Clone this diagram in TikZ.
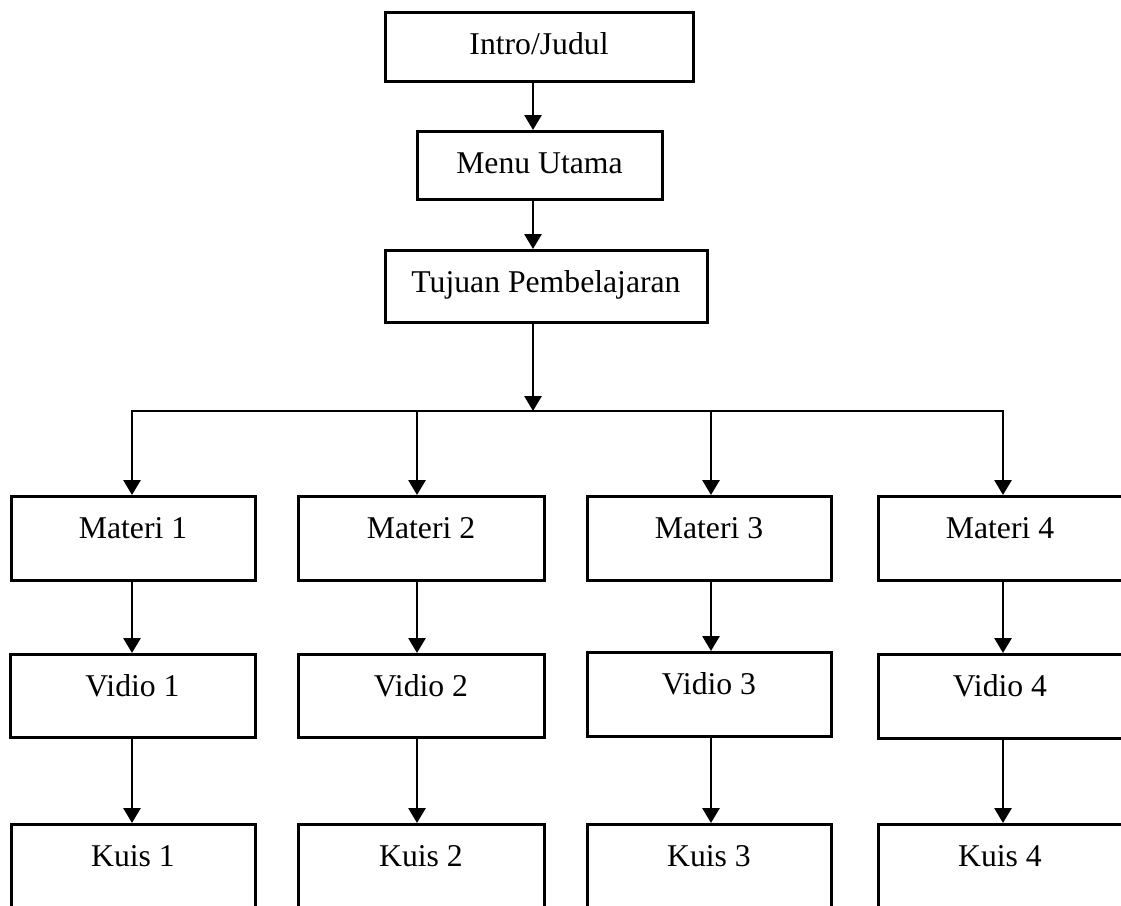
\documentclass[tikz,border=0pt]{standalone}
\usepackage{fontspec}
\setmainfont{Liberation Serif}
\usetikzlibrary{arrows.meta}
\begin{document}
\begin{tikzpicture}[x=1pt,y=-1pt,
  box/.style={draw, line width=3pt, inner xsep=0pt, inner ysep=0pt, text height=42pt, anchor=north, font=\fontsize{31.7pt}{38pt}\selectfont},
  arr/.style={line width=2.8pt, -{Triangle[width=17pt,length=15pt]}},
  conn/.style={line width=2.8pt, line cap=rect}]
\useasboundingbox (0,0) rectangle (1121,905);
\clip (0,0) rectangle (1121,905);
% top chain
\node[box, minimum width=308pt, text depth=27pt] (intro) at (539,11) {Intro/Judul};
\node[box, minimum width=245pt, text depth=26pt] (menu) at (539.5,130) {Menu Utama};
\node[box, minimum width=322pt, text depth=30pt] (tujuan) at (546,249) {Tujuan Pembelajaran};
% branch coordinates
\coordinate (t) at (533,411);
\coordinate (c1) at (132,411);
\coordinate (c2) at (417,411);
\coordinate (c3) at (711,411);
\coordinate (c4) at (1003,411);
% Materi
\node[box, minimum width=244pt, text depth=42pt] (m1) at (133,495) {Materi 1};
\node[box, minimum width=246pt, text depth=42pt] (m2) at (421,495) {Materi 2};
\node[box, minimum width=244pt, text depth=42pt] (m3) at (709,495) {Materi 3};
\node[box, minimum width=244pt, text depth=42pt] (m4) at (1000,495) {Materi 4};
% Vidio
\node[box, minimum width=245pt, text depth=41pt] (v1) at (132.5,653) {Vidio 1};
\node[box, minimum width=246pt, text depth=41pt] (v2) at (421,653) {Vidio 2};
\node[box, minimum width=244pt, text depth=42pt] (v3) at (709,651) {Vidio 3};
\node[box, minimum width=244pt, text depth=42pt] (v4) at (1000,653) {Vidio 4};
% Kuis
\node[box, minimum width=244pt, text depth=48pt] (k1) at (133,823) {Kuis 1};
\node[box, minimum width=246pt, text depth=48pt] (k2) at (421,823) {Kuis 2};
\node[box, minimum width=244pt, text depth=48pt] (k3) at (709,823) {Kuis 3};
\node[box, minimum width=244pt, text depth=48pt] (k4) at (1000,823) {Kuis 4};
% connectors
\draw[arr] (intro.south -| t) -- (menu.north -| t);
\draw[arr] (menu.south -| t) -- (tujuan.north -| t);
\draw[arr] (tujuan.south -| t) -- (t);
\draw[conn] (c1) -- (c4);
\foreach \i in {1,2,3,4}{
  \draw[arr] (c\i) -- (m\i.north -| c\i);
  \draw[arr] (m\i.south -| c\i) -- (v\i.north -| c\i);
  \draw[arr] (v\i.south -| c\i) -- (k\i.north -| c\i);
}
\end{tikzpicture}
\end{document}
